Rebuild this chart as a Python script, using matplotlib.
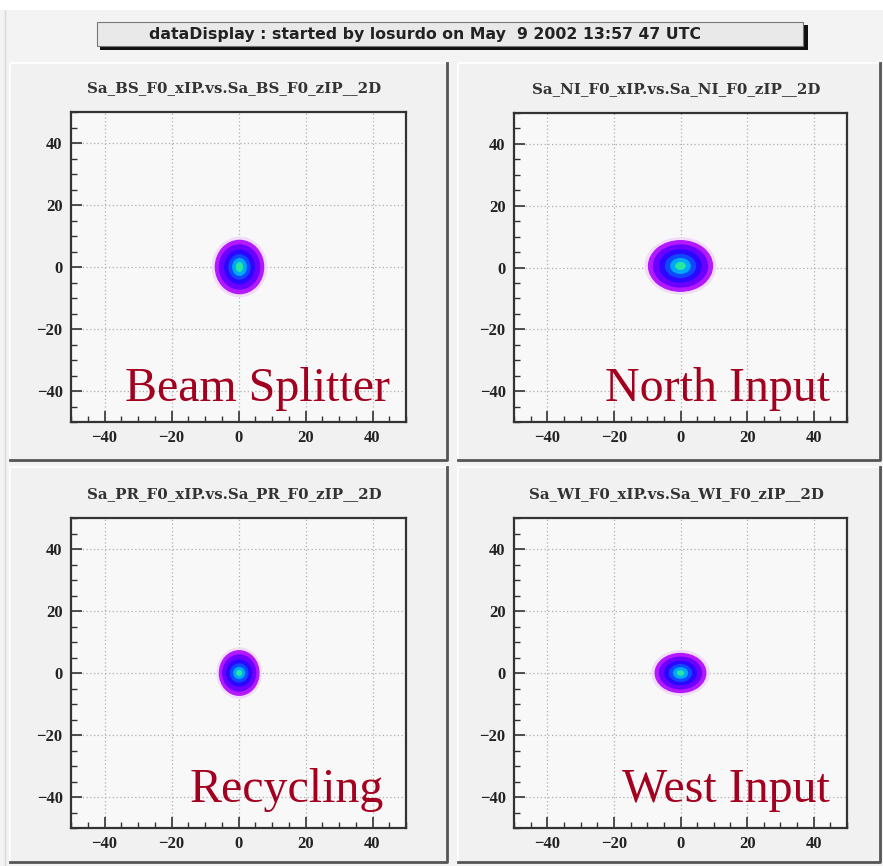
import matplotlib
matplotlib.use("Agg")
import matplotlib.pyplot as plt
from matplotlib.patches import Ellipse, Rectangle
from matplotlib.ticker import MultipleLocator

W, H = 883, 866

header = "dataDisplay : started by losurdo on May  9 2002 13:57 47 UTC"
hist_names = ["Sa_BS_F0_xIP.vs.Sa_BS_F0_zIP__2D",
              "Sa_NI_F0_xIP.vs.Sa_NI_F0_zIP__2D",
              "Sa_PR_F0_xIP.vs.Sa_PR_F0_zIP__2D",
              "Sa_WI_F0_xIP.vs.Sa_WI_F0_zIP__2D"]
detectors = ["Beam Splitter", "North Input", "Recycling", "West Input"]

# beam spot centroid per detector
spot_x = [0.3, 0.0, 0.2, 0.0]
spot_y = [0.0, 0.5, 0.0, 0.0]

# half widths of each intensity band, outer halo -> core
level_colors = ["#f1dcf8", "#b418ff", "#6a00ff", "#2a08ff", "#1048ff",
                "#00a8f8", "#28e8a0"]
half_x = [[8.3, 7.4, 6.2, 4.6, 3.3, 2.2, 1.1],
          [10.8, 9.8, 8.3, 6.4, 4.7, 3.1, 1.6],
          [6.8, 6.1, 5.1, 3.9, 2.8, 1.8, 0.9],
          [8.8, 7.8, 6.5, 4.9, 3.5, 2.3, 1.1]]
half_y = [[9.8, 8.8, 7.3, 5.6, 4.1, 2.9, 1.6],
          [9.3, 8.4, 7.0, 5.4, 3.9, 2.6, 1.3],
          [8.3, 7.4, 6.0, 4.4, 3.1, 2.0, 1.0],
          [7.4, 6.5, 5.3, 4.0, 2.9, 1.9, 0.9]]

# panel frames and plot areas in pixels (left, top, right, bottom)
panels = [(10, 63, 447, 460), (458, 63, 880, 460),
          (10, 467, 447, 862), (458, 467, 880, 862)]
frames = [(71, 112, 406, 422), (514, 113, 847, 422),
          (71, 518, 406, 828), (514, 518, 847, 828)]
label_pos = [(125, 401), (605, 401), (190, 802), (622, 802)]


def fx(x):
    return x / W


def fy(y):
    return 1 - y / H


fig = plt.figure(figsize=(W / 100, H / 100), dpi=100, facecolor="#f3f3f3")

# white strip on top and header box with shadow
fig.patches.append(Rectangle((0, fy(10)), 1, 1 - fy(10), transform=fig.transFigure,
                             facecolor="white", edgecolor="none", zorder=0))
fig.lines.append(plt.Line2D([fx(5), fx(5)], [0, fy(10)], transform=fig.transFigure,
                            color="#d8d8d8", lw=1, zorder=0))
fig.patches.append(Rectangle((fx(100), fy(50)), fx(708), fy(25) - fy(50),
                             transform=fig.transFigure, facecolor="#111111",
                             edgecolor="none", zorder=1))
fig.patches.append(Rectangle((fx(97), fy(46)), fx(706), fy(22) - fy(46),
                             transform=fig.transFigure, facecolor="#e9e9e9",
                             edgecolor="#777777", linewidth=0.8, zorder=2))
fig.text(fx(425), fy(34), header, ha="center", va="center", fontsize=11.3,
         fontweight="semibold", color="#222222", family="DejaVu Sans", zorder=3)

for (l, t, r, b) in panels:
    fig.patches.append(Rectangle((fx(l), fy(b)), fx(r - l), fy(t) - fy(b),
                                 transform=fig.transFigure, facecolor="#f1f1f1",
                                 edgecolor="none", zorder=1))
    # bevelled border: light top/left, dark bottom/right
    fig.lines.append(plt.Line2D([fx(l), fx(l), fx(r)], [fy(b), fy(t), fy(t)],
                                transform=fig.transFigure, color="#fdfdfd", lw=1.5, zorder=2))
    fig.lines.append(plt.Line2D([fx(l), fx(r), fx(r)], [fy(b), fy(b), fy(t)],
                                transform=fig.transFigure, color="#555555", lw=2, zorder=2))

for i in range(4):
    l, t, r, b = frames[i]
    ax = fig.add_axes([fx(l), fy(b), fx(r - l), fy(t) - fy(b)])
    ax.set_zorder(5)
    ax.set_facecolor("#f8f8f8")
    ax.set_xlim(-50, 50)
    ax.set_ylim(-50, 50)

    for k in range(len(level_colors)):
        ax.add_patch(Ellipse((spot_x[i], spot_y[i]), 2 * half_x[i][k], 2 * half_y[i][k],
                             facecolor=level_colors[k], edgecolor="none", zorder=3))

    ax.xaxis.set_major_locator(MultipleLocator(20))
    ax.yaxis.set_major_locator(MultipleLocator(20))
    ax.xaxis.set_minor_locator(MultipleLocator(5))
    ax.yaxis.set_minor_locator(MultipleLocator(5))
    ax.grid(True, which="major", color="#b0b0b0", linestyle=(0, (1, 2)), linewidth=0.9, zorder=1)
    ax.set_axisbelow(True)
    ax.tick_params(which="major", direction="in", length=8, width=1.2, color="#333333",
                   labelsize=12, pad=6, labelcolor="#222222")
    ax.tick_params(which="minor", direction="in", length=4, width=1, color="#333333")
    ax.tick_params(top=False, right=False, which="both")
    for lab in ax.get_xticklabels() + ax.get_yticklabels():
        lab.set_family("Liberation Serif")
        lab.set_fontweight("bold")
    for s in ax.spines.values():
        s.set_color("#333333")
        s.set_linewidth(1.6)

    fig.text(fx((l + r) / 2 - 4), fy(t - 24), hist_names[i], ha="center", va="center",
             fontsize=10.8, fontweight="bold", color="#333333", family="DejaVu Serif",
             zorder=10)

    lx, ly = label_pos[i]
    fig.text(fx(lx), fy(ly), detectors[i], ha="left", va="baseline", fontsize=34.5,
             color="#a3001f", family="Liberation Serif", zorder=10)

fig.savefig("out.png", dpi=100, facecolor=fig.get_facecolor())
